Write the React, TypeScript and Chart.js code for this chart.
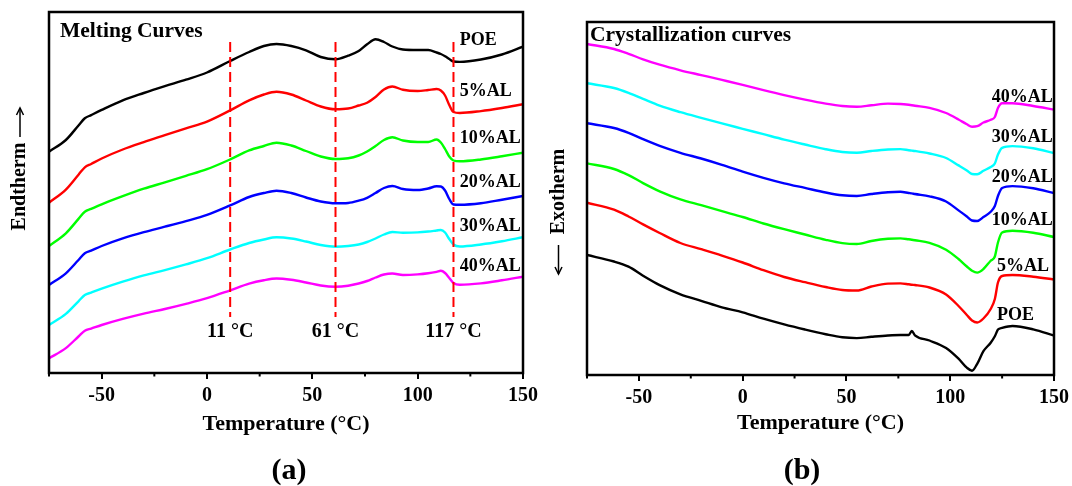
import { useEffect, useRef } from "react";
import { Chart, registerables } from "chart.js";

Chart.register(...registerables);

const SERIF = '"Liberation Serif", "Times New Roman", Times, serif';

// Sample names and line colours (same order in both panels)
const seriesNames = ["POE", "5%AL", "10%AL", "20%AL", "30%AL", "40%AL"];
const seriesColors = ["#000000", "#ff0000", "#00ff00", "#0000ff", "#00ffff", "#ff00ff"];

// Temperature axis ticks (°C)
const majorTicks = [-50, 0, 50, 100, 150];
const minorTicks = [-75, -25, 25, 75, 125];

// (a) Heating scans — heat flow, arbitrary units, curves stacked for clarity
const meltTemps = [-75, -67, -61, -58, -55, -50, -40, -30, -20, -10, 0, 11, 20, 27, 33, 40, 47, 54, 61, 67, 72, 76, 80, 84, 88, 93, 100, 105, 109, 111, 113, 115, 117, 120, 130, 140, 150];
const meltPOE = [221.3, 233.0, 247.5, 254.7, 257.9, 263.1, 272.7, 280.0, 286.8, 293.3, 300.5, 312.0, 321.0, 327.0, 329.0, 327.0, 322.7, 316.0, 313.7, 317.3, 322.0, 328.7, 333.7, 331.0, 326.5, 323.5, 323.0, 323.0, 320.5, 319.0, 316.7, 314.0, 311.5, 311.1, 313.5, 318.5, 326.3];
const melt5AL = [170.3, 183.4, 198.3, 205.7, 209.0, 214.5, 223.5, 230.9, 237.8, 244.7, 251.4, 262.6, 272.6, 278.5, 281.3, 278.5, 272.5, 266.5, 263.7, 264.5, 267.5, 270.3, 276.0, 283.5, 286.5, 283.2, 282.0, 283.0, 284.0, 282.5, 277.5, 268.0, 261.0, 260.0, 261.9, 265.0, 268.7];
const melt10AL = [127.0, 139.7, 154.1, 161.3, 164.1, 168.7, 176.8, 184.3, 190.6, 197.1, 203.8, 213.6, 222.6, 227.0, 230.3, 227.5, 222.0, 216.5, 214.0, 214.7, 217.5, 221.5, 227.0, 233.0, 235.7, 232.5, 231.0, 231.0, 233.5, 230.5, 224.0, 216.5, 212.5, 211.7, 213.5, 216.7, 220.3];
const melt20AL = [88.0, 99.7, 113.0, 119.7, 122.4, 127.0, 134.6, 140.9, 146.3, 151.9, 158.1, 167.6, 176.0, 180.0, 182.3, 180.0, 175.5, 171.5, 169.7, 170.0, 172.3, 175.2, 180.0, 185.0, 187.0, 184.0, 183.0, 184.5, 186.7, 186.5, 182.5, 174.0, 168.5, 168.2, 169.7, 173.3, 177.0];
const melt30AL = [48.0, 59.1, 71.7, 78.0, 80.4, 84.3, 91.3, 97.6, 102.9, 108.6, 114.8, 123.5, 130.0, 133.5, 135.7, 134.5, 131.5, 128.0, 126.3, 127.0, 128.5, 131.0, 134.5, 138.5, 141.0, 140.3, 140.6, 141.5, 142.5, 143.0, 140.5, 134.0, 128.5, 126.5, 128.5, 131.7, 135.7];
const melt40AL = [14.7, 24.9, 36.5, 42.3, 44.4, 48.0, 54.1, 59.4, 64.0, 69.1, 74.8, 82.7, 89.4, 92.8, 94.5, 93.2, 90.5, 87.5, 86.3, 87.3, 89.5, 92.0, 95.5, 98.5, 99.5, 98.0, 98.6, 99.7, 101.2, 102.2, 100.0, 95.0, 90.0, 88.2, 89.6, 92.7, 96.3];

// Characteristic temperatures marked on the heating scans (°C)
const meltMarkerTemps = [11, 61, 117];
const meltMarkerLabels = ["11 °C", "61 °C", "117 °C"];
const meltMarkerSpan = [331, 56];

// (b) Cooling scans — heat flow, arbitrary units, curves stacked for clarity
const crystTemps = [-75, -62, -55, -48, -40, -30, -20, -10, 0, 10, 20, 30, 40, 48, 55, 62, 70, 76, 80, 81.5, 83, 90, 98, 104, 108, 110.5, 113, 116, 119.5, 121.5, 123, 125, 130, 140, 150];
const crystPOE = [120.0, 113.5, 108.3, 99.3, 89.9, 80.7, 74.2, 67.6, 62.7, 56.3, 50.6, 45.5, 40.8, 37.7, 36.9, 38.2, 39.5, 40.0, 40.0, 44.0, 39.7, 34.5, 27.0, 16.3, 7.3, 4.3, 11.2, 23.8, 32.3, 38.7, 45.4, 47.1, 49.0, 45.7, 39.5];
const cryst5AL = [172.3, 165.3, 158.5, 150.6, 142.0, 132.0, 125.8, 119.4, 112.5, 104.8, 98.0, 92.8, 88.0, 85.0, 84.5, 88.5, 91.4, 91.6, 90.7, 90.3, 90.0, 87.5, 80.5, 69.0, 60.0, 54.5, 52.5, 56.5, 66.0, 76.0, 92.5, 99.0, 100.0, 98.3, 95.5];
const cryst10AL = [211.7, 206.0, 199.9, 191.9, 183.7, 175.6, 169.8, 163.8, 158.0, 151.5, 145.8, 140.5, 135.2, 131.9, 131.0, 134.0, 136.2, 136.6, 135.7, 135.3, 134.8, 132.2, 125.3, 116.0, 108.5, 104.3, 102.4, 106.0, 114.3, 118.5, 132.5, 142.5, 144.3, 142.3, 138.0];
const cryst20AL = [251.7, 247.0, 242.2, 235.9, 229.1, 222.2, 216.5, 210.2, 203.4, 197.2, 191.7, 187.1, 182.5, 179.7, 179.0, 181.0, 182.8, 183.2, 182.0, 181.6, 181.0, 178.7, 173.5, 164.6, 158.5, 154.5, 154.0, 158.0, 163.2, 169.0, 179.0, 187.0, 188.9, 186.7, 182.0];
const cryst30AL = [291.7, 287.0, 282.2, 276.1, 269.3, 262.8, 257.1, 251.6, 246.2, 240.8, 235.4, 230.5, 225.8, 223.0, 222.3, 224.0, 225.5, 225.9, 224.8, 224.4, 224.0, 221.5, 217.0, 209.6, 204.5, 201.0, 200.8, 204.2, 208.0, 211.5, 220.5, 227.2, 228.9, 226.7, 222.0];
const cryst40AL = [331.0, 326.0, 321.2, 315.7, 310.3, 304.7, 299.9, 295.1, 290.2, 284.9, 279.9, 275.4, 271.4, 269.0, 268.3, 269.7, 271.4, 271.0, 270.2, 269.8, 269.3, 267.1, 262.0, 255.5, 250.7, 248.3, 248.8, 252.5, 255.2, 258.0, 267.0, 271.7, 271.8, 269.0, 265.4];

type Note = { text: string; x: number; y: number; size: number; align: CanvasTextAlign };

interface PanelSpec {
  temps: number[];
  series: number[][];
  yMax: number;
  pad: { left: number; top: number; right: number };
  axisHeight: number;
  titlePad: number;
  markers: number[];
  notes: Note[];
  heading: { text: string; dx: number; dy: number; size: number };
  yTitle: { text: string; x: number; y: number; size: number; arrowFrom: number; arrowTo: number };
  letter: { text: string; x: number; y: number };
}

// Series labels placed in data coordinates next to each curve
const meltNotes: Note[] = [
  ...seriesNames.map((name, i) => ({ text: name, x: 120, y: [333, 281.3, 234.7, 190.3, 146.3, 106.3][i], size: 18, align: "left" as CanvasTextAlign })),
  ...meltMarkerTemps.map((t, i) => ({ text: meltMarkerLabels[i], x: t, y: 41, size: 20, align: "center" as CanvasTextAlign })),
];

const crystNotes: Note[] = seriesNames.map((name, i) => ({
  text: name,
  x: [122.5, 122.5, 120, 120, 120, 120][i],
  y: [60, 109, 155, 197.7, 237.7, 277.7][i],
  size: 18,
  align: "left" as CanvasTextAlign,
}));

const meltSpec: PanelSpec = {
  temps: meltTemps,
  series: [meltPOE, melt5AL, melt10AL, melt20AL, melt30AL, melt40AL],
  yMax: 361,
  pad: { left: 49, top: 12, right: 17 },
  axisHeight: 113,
  titlePad: 48.8,
  markers: meltMarkerTemps,
  notes: meltNotes,
  heading: { text: "Melting Curves", dx: 11, dy: 25, size: 21.5 },
  yTitle: { text: "Endtherm", x: 20, y: 186.5, size: 20, arrowFrom: 137, arrowTo: 108 },
  letter: { text: "(a)", x: 289, y: 471 },
};

const crystSpec: PanelSpec = {
  temps: crystTemps,
  series: [crystPOE, cryst5AL, cryst10AL, cryst20AL, cryst30AL, cryst40AL],
  yMax: 353,
  pad: { left: 47, top: 22, right: 18 },
  axisHeight: 111,
  titlePad: 49.8,
  markers: [],
  notes: crystNotes,
  heading: { text: "Crystallization curves", dx: 3, dy: 19, size: 21.5 },
  yTitle: { text: "Exotherm", x: 18.5, y: 191.5, size: 20, arrowFrom: 245, arrowTo: 274 },
  letter: { text: "(b)", x: 262, y: 471 },
};

// Frame, minor ticks, annotations and panel captions
function decorations(spec: PanelSpec) {
  return {
    id: "decorations",
    afterDraw(chart: Chart) {
      const { ctx, chartArea: a } = chart;
      const xs = chart.scales.x;
      const ys = chart.scales.y;
      ctx.save();
      ctx.strokeStyle = "#000";
      ctx.fillStyle = "#000";

      ctx.lineWidth = 2;
      for (const v of minorTicks) {
        const px = xs.getPixelForValue(v);
        ctx.beginPath();
        ctx.moveTo(px, a.bottom);
        ctx.lineTo(px, a.bottom + 3.5);
        ctx.stroke();
      }

      ctx.lineWidth = 2.5;
      ctx.strokeRect(a.left, a.top, a.right - a.left, a.bottom - a.top);

      ctx.textBaseline = "middle";
      for (const n of spec.notes) {
        ctx.font = `bold ${n.size}px ${SERIF}`;
        ctx.textAlign = n.align;
        ctx.fillText(n.text, xs.getPixelForValue(n.x), ys.getPixelForValue(n.y));
      }

      const h = spec.heading;
      ctx.textBaseline = "alphabetic";
      ctx.textAlign = "left";
      ctx.font = `bold ${h.size}px ${SERIF}`;
      ctx.fillText(h.text, a.left + h.dx, a.top + h.dy);

      const t = spec.yTitle;
      ctx.save();
      ctx.translate(t.x, t.y);
      ctx.rotate(-Math.PI / 2);
      ctx.font = `bold ${t.size}px ${SERIF}`;
      ctx.textAlign = "center";
      ctx.textBaseline = "middle";
      ctx.fillText(t.text, 0, 0);
      ctx.restore();

      ctx.lineWidth = 1.5;
      ctx.beginPath();
      ctx.moveTo(t.x, t.arrowFrom);
      ctx.lineTo(t.x, t.arrowTo);
      ctx.stroke();
      const dir = Math.sign(t.arrowTo - t.arrowFrom);
      ctx.beginPath();
      ctx.moveTo(t.x - 3.5, t.arrowTo - dir * 7);
      ctx.lineTo(t.x, t.arrowTo);
      ctx.lineTo(t.x + 3.5, t.arrowTo - dir * 7);
      ctx.stroke();

      ctx.font = `bold 30px ${SERIF}`;
      ctx.textAlign = "center";
      ctx.textBaseline = "middle";
      ctx.fillText(spec.letter.text, spec.letter.x, spec.letter.y);
      ctx.restore();
    },
  };
}

function buildConfig(spec: PanelSpec): any {
  const markerSets = spec.markers.map((t) => ({
    label: `${t} °C`,
    data: meltMarkerSpan.map((y) => ({ x: t, y })),
    borderColor: "#ff0000",
    borderWidth: 2,
    borderDash: [10, 5],
    pointRadius: 0,
    fill: false,
  }));
  const curves = spec.series.map((vals, i) => ({
    label: seriesNames[i],
    data: spec.temps.map((t, k) => ({ x: t, y: vals[k] })),
    borderColor: seriesColors[i],
    borderWidth: 2.4,
    pointRadius: 0,
    cubicInterpolationMode: "monotone",
    fill: false,
  }));
  return {
    type: "line",
    data: { datasets: [...markerSets, ...curves] },
    options: {
      responsive: false,
      animation: false,
      events: [],
      layout: { padding: { left: spec.pad.left, top: spec.pad.top, right: spec.pad.right, bottom: 0 } },
      plugins: { legend: { display: false }, tooltip: { enabled: false } },
      scales: {
        x: {
          type: "linear",
          min: -75,
          max: 150,
          afterBuildTicks: (s: any) => {
            s.ticks = majorTicks.map((v) => ({ value: v }));
          },
          afterFit: (s: any) => {
            s.height = spec.axisHeight;
            s.paddingLeft = 0;
            s.paddingRight = 0;
          },
          border: { display: false },
          grid: { display: true, drawOnChartArea: false, drawTicks: true, tickLength: 6, lineWidth: 2, color: "#000" },
          ticks: {
            color: "#000",
            padding: 5,
            maxRotation: 0,
            autoSkip: false,
            font: { family: SERIF, size: 20, weight: "bold" },
          },
          title: {
            display: true,
            text: "Temperature (°C)",
            color: "#000",
            font: { family: SERIF, size: 22, weight: "bold" },
            padding: { top: 0, bottom: spec.titlePad },
          },
        },
        y: { type: "linear", display: false, min: 0, max: spec.yMax },
      },
    },
    plugins: [decorations(spec)],
  };
}

function Panel({ spec, left, width }: { spec: PanelSpec; left: number; width: number }) {
  const ref = useRef<HTMLCanvasElement>(null);
  useEffect(() => {
    const chart = new Chart(ref.current as HTMLCanvasElement, buildConfig(spec));
    return () => chart.destroy();
  }, [spec]);
  return (
    <canvas
      ref={ref}
      width={width}
      height={486}
      style={{ position: "absolute", left, top: 0, width, height: 486 }}
    />
  );
}

export default function App() {
  return (
    <div style={{ position: "absolute", left: 0, top: 0, width: 1072, height: 486, background: "#fff" }}>
      <Panel spec={meltSpec} left={0} width={540} />
      <Panel spec={crystSpec} left={540} width={532} />
    </div>
  );
}
